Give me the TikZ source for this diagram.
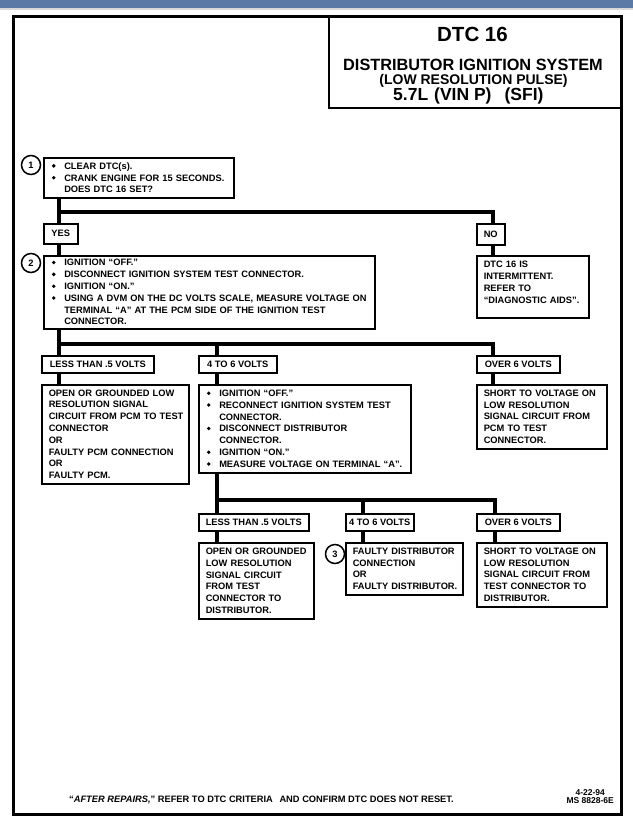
\documentclass[tikz,border=0pt]{standalone}
\usepackage{fontspec}
\setmainfont{Liberation Sans}
\definecolor{bandblue}{RGB}{92,122,166}
\newcommand\dotb{\tikz[baseline=0pt,x=1bp,y=1bp]{\useasboundingbox (-2,0) rectangle (2,6); \fill (0,3.4) circle (1.9);}}
\newcommand\bl[1]{\makebox[13.5bp][l]{\hspace{1bp}\dotb}\mbox{#1}}
\newcommand\ct[1]{\hspace*{13.5bp}\mbox{#1}}
\newcommand\tx[1]{\mbox{#1}}
\begin{document}
\begin{tikzpicture}[x=1bp,y=-1bp,
  every node/.style={font=\fontsize{9.3bp}{11.8bp}\selectfont\bfseries},
  box/.style={draw, line width=1.5bp, anchor=north west, inner xsep=7bp, inner ysep=0bp, align=left},
  lbl/.style={draw, line width=1.5bp, anchor=north west, inner sep=0pt, align=center},
  conn/.style={line width=4bp},
  num/.style={draw, circle, line width=1.5bp, minimum size=19bp, inner sep=0pt}
]
\useasboundingbox (0,0) rectangle (633,830);
\fill[white] (0,0) rectangle (633,830);
\fill[bandblue] (0,0) rectangle (633,8);
\fill[black!15] (0,8) rectangle (633,9.5);

% frame and title
\node[draw, line width=2.5bp, anchor=north west, minimum width=608bp, minimum height=798bp, inner sep=0pt] (frame) at (12,15) {};
\node[draw, line width=2bp, anchor=north west, minimum width=292bp, minimum height=92bp, inner sep=0pt] (tbox) at (328,15) {};
\node[font=\fontsize{20.5bp}{20bp}\selectfont\bfseries, anchor=base, inner sep=0pt] (t1) at (472.5,41) {DTC 16};
\node[font=\fontsize{16.3bp}{16bp}\selectfont\bfseries, anchor=base, inner sep=0pt] (t2) at (473,70) {DISTRIBUTOR IGNITION SYSTEM};
\node[font=\fontsize{14bp}{14bp}\selectfont\bfseries, anchor=base, inner sep=0pt] (t3) at (473.5,84) {(LOW RESOLUTION PULSE)};
\node[font=\fontsize{17.5bp}{17bp}\selectfont\bfseries, anchor=base west, inner sep=0pt] (t4) at (393,100.5) {5.7L\hspace{6bp}(VIN P)\hspace{13bp}(SFI)};

% step 1
\node[num] (c1) at (31,165) {1};
\node[box, minimum width=190bp, minimum height=40bp, text width=176bp] (b1) at (43,157)
  {\bl{CLEAR DTC(s).}\\ \bl{CRANK ENGINE FOR 15 SECONDS.}\\ \ct{DOES DTC 16 SET?}};
\node[lbl, minimum width=34bp, minimum height=20bp] (yes) at (43,223) {YES};
\node[lbl, minimum width=28bp, minimum height=21bp] (no) at (476,223) {NO};

% step 2
\node[num] (c2) at (31,263) {2};
\node[box, minimum width=331bp, minimum height=73bp, text width=317bp] (b2) at (43,255)
  {\bl{IGNITION “OFF.”}\\
   \bl{DISCONNECT IGNITION SYSTEM TEST CONNECTOR.}\\
   \bl{IGNITION “ON.”}\\
   \bl{USING A DVM ON THE DC VOLTS SCALE, MEASURE VOLTAGE ON}\\
   \ct{TERMINAL “A” AT THE PCM SIDE OF THE IGNITION TEST}\\
   \ct{CONNECTOR.}};
\node[box, minimum width=112bp, minimum height=62bp, text width=98bp] (dtcint) at (476,255)
  {\tx{DTC 16 IS}\\ \tx{INTERMITTENT.}\\ \tx{REFER TO}\\ \tx{“DIAGNOSTIC AIDS”.}\\[-3bp]\mbox{}};

% level 2 labels
\node[lbl, minimum width=112bp, minimum height=17bp] (lt1) at (41,355) {LESS THAN .5 VOLTS};
\node[lbl, minimum width=78bp, minimum height=17bp] (mid1) at (198,355) {4 TO 6 VOLTS};
\node[lbl, minimum width=83bp, minimum height=17bp] (ov1) at (476,355) {OVER 6 VOLTS};

% level 2 boxes
\node[box, minimum width=147bp, minimum height=99bp, text width=133bp] (open1) at (41,384)
  {\tx{OPEN OR GROUNDED LOW}\\ \tx{RESOLUTION SIGNAL}\\ \tx{CIRCUIT FROM PCM TO TEST}\\
   \tx{CONNECTOR}\\ \tx{OR}\\ \tx{FAULTY PCM CONNECTION}\\ \tx{OR}\\ \tx{FAULTY PCM.}};
\node[box, minimum width=212bp, minimum height=88bp, text width=198bp] (ign) at (198,384)
  {\bl{IGNITION “OFF.”}\\ \bl{RECONNECT IGNITION SYSTEM TEST}\\ \ct{CONNECTOR.}\\
   \bl{DISCONNECT DISTRIBUTOR}\\ \ct{CONNECTOR.}\\ \bl{IGNITION “ON.”}\\
   \bl{MEASURE VOLTAGE ON TERMINAL “A”.}};
\node[box, minimum width=130bp, minimum height=64bp, text width=116bp] (short1) at (476,384)
  {\tx{SHORT TO VOLTAGE ON}\\ \tx{LOW RESOLUTION}\\ \tx{SIGNAL CIRCUIT FROM}\\ \tx{PCM TO TEST}\\ \tx{CONNECTOR.}};

% level 3 labels
\node[lbl, minimum width=110bp, minimum height=17bp] (lt2) at (198,513) {LESS THAN .5 VOLTS};
\node[lbl, minimum width=68bp, minimum height=17bp] (mid2) at (345,513) {4 TO 6 VOLTS};
\node[lbl, minimum width=83bp, minimum height=17bp] (ov2) at (476,513) {OVER 6 VOLTS};

% level 3 boxes
\node[box, minimum width=115bp, minimum height=76bp, text width=101bp] (open2) at (198,542)
  {\tx{OPEN OR GROUNDED}\\ \tx{LOW RESOLUTION}\\ \tx{SIGNAL CIRCUIT}\\ \tx{FROM TEST}\\ \tx{CONNECTOR TO}\\ \tx{DISTRIBUTOR.}};
\node[num] (c3) at (335,554) {3};
\node[box, minimum width=117bp, minimum height=52bp, text width=103bp] (faulty) at (345,542)
  {\tx{FAULTY DISTRIBUTOR}\\ \tx{CONNECTION}\\ \tx{OR}\\ \tx{FAULTY DISTRIBUTOR.}};
\node[box, minimum width=130bp, minimum height=64bp, text width=116bp] (short2) at (476,542)
  {\tx{SHORT TO VOLTAGE ON}\\ \tx{LOW RESOLUTION}\\ \tx{SIGNAL CIRCUIT FROM}\\ \tx{TEST CONNECTOR TO}\\ \tx{DISTRIBUTOR.}};

% connectors
\coordinate (bus1) at (59,212);
\coordinate (bus1r) at (493,212);
\draw[conn] (b1.south -| bus1) -- (yes.north -| bus1);
\draw[conn] (bus1) -- (bus1r) -- (no.north -| bus1r);
\draw[conn] (yes.south -| bus1) -- (b2.north -| bus1);
\draw[conn] (no.south -| bus1r) -- (dtcint.north -| bus1r);

\coordinate (bus2) at (59,344);
\coordinate (bus2m) at (217,344);
\coordinate (bus2r) at (493,344);
\draw[conn] (b2.south -| bus2) -- (lt1.north -| bus2);
\draw[conn] (bus2) -- (bus2r) -- (ov1.north -| bus2r);
\draw[conn] (bus2m) -- (mid1.north -| bus2m);
\draw[conn] (lt1.south -| bus2) -- (open1.north -| bus2);
\draw[conn] (mid1.south -| bus2m) -- (ign.north -| bus2m);
\draw[conn] (ov1.south -| bus2r) -- (short1.north -| bus2r);

\coordinate (bus3) at (217,500);
\coordinate (bus3m) at (363,500);
\coordinate (bus3r) at (495,500);
\draw[conn] (ign.south -| bus3) -- (lt2.north -| bus3);
\draw[conn] (bus3) -- (bus3r) -- (ov2.north -| bus3r);
\draw[conn] (bus3m) -- (mid2.north -| bus3m);
\draw[conn] (lt2.south -| bus3) -- (open2.north -| bus3);
\draw[conn] (mid2.south -| bus3m) -- (faulty.north -| bus3m);
\draw[conn] (ov2.south -| bus3r) -- (short2.north -| bus3r);

% footer
\node[anchor=base west, inner sep=0pt] (foot) at (69,802)
  {“\textit{AFTER REPAIRS,}” REFER TO DTC CRITERIA\hspace{4bp} AND CONFIRM DTC DOES NOT RESET.};
\node[anchor=base east, inner sep=0pt, align=center, font=\fontsize{8.5bp}{8bp}\selectfont\bfseries] (date) at (614,803)
  {4-22-94\\MS 8828-6E};
\end{tikzpicture}
\end{document}
